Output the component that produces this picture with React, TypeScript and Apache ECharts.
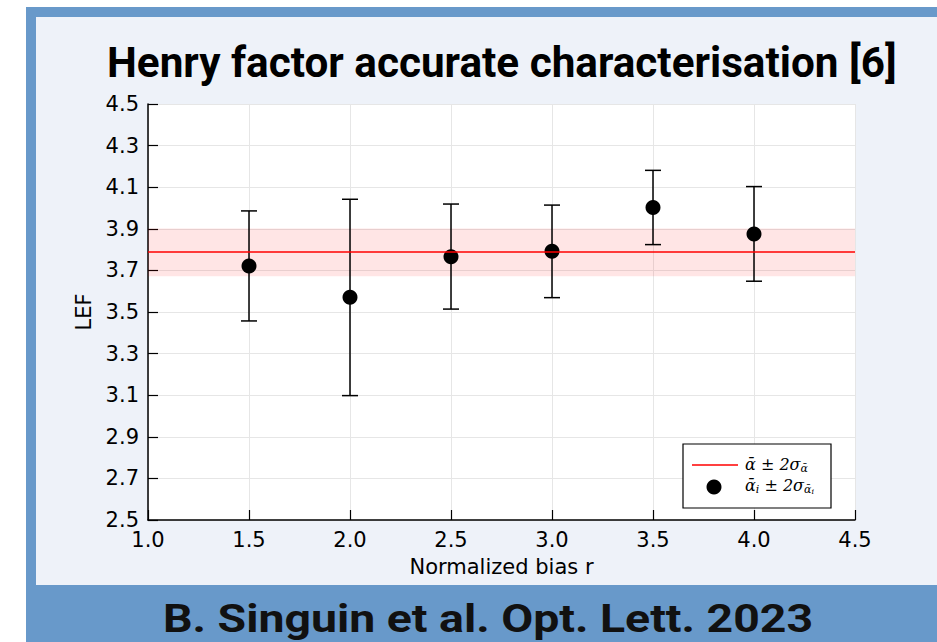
import React, { useEffect, useRef } from "react";
import * as echarts from "echarts";

// ---- data ----
const biasR = [1.5, 2.0, 2.5, 3.0, 3.5, 4.0];
const lefValues = [3.721, 3.571, 3.766, 3.792, 4.002, 3.875];
const errLow = [3.457, 3.098, 3.514, 3.569, 3.824, 3.648];
const errHigh = [3.986, 4.042, 4.019, 4.014, 4.181, 4.103];
const meanLEF = 3.788;
const bandLow = 3.672;
const bandHigh = 3.902;

const xTicks = { min: 1.0, max: 4.5, step: 0.5 };
const yTicks = { min: 2.5, max: 4.5, step: 0.2 };

const titleText = "Henry factor accurate characterisation [6]";
const captionText = "B. Singuin et al. Opt. Lett. 2023";
const xName = "Normalized bias r";
const yName = "LEF";

const W = 937;
const H = 642;

function measure(text: string, font: string): number {
  const c = document.createElement("canvas");
  const ctx = c.getContext("2d");
  if (!ctx) return 0;
  ctx.font = font;
  return ctx.measureText(text).width;
}

export default function App() {
  const ref = useRef<HTMLDivElement | null>(null);

  useEffect(() => {
    if (!ref.current) return;
    const chart = echarts.init(ref.current, undefined, { renderer: "svg" });

    const titleFont = "Roboto";
    const titleSize = 43;
    const tW = measure(titleText, `bold ${titleSize}px ${titleFont}`) || 790;
    const titleScale = 790 / tW;
    const capSize = 39;
    const cW = measure(captionText, `bold ${capSize}px ${titleFont}`) || 650;
    const capScale = 650 / cW;

    const axisFont = "DejaVu Sans";

    const renderErr = (params: any, api: any) => {
      const x = api.value(0);
      const lo = api.value(1);
      const hi = api.value(2);
      const top = api.coord([x, hi]);
      const bot = api.coord([x, lo]);
      const hw = 8;
      const st = { stroke: "#000", lineWidth: 1.5 };
      return {
        type: "group",
        children: [
          { type: "line", shape: { x1: top[0], y1: top[1], x2: bot[0], y2: bot[1] }, style: st },
          { type: "line", shape: { x1: top[0] - hw, y1: top[1], x2: top[0] + hw, y2: top[1] }, style: st },
          { type: "line", shape: { x1: bot[0] - hw, y1: bot[1], x2: bot[0] + hw, y2: bot[1] }, style: st },
        ],
      };
    };

    const axisCommon = {
      type: "value",
      nameLocation: "middle",
      nameTextStyle: { fontFamily: axisFont, fontSize: 21, color: "#000" },
      axisLine: { show: true, onZero: false, lineStyle: { color: "#000", width: 1.5 } },
      axisTick: { show: true, inside: true, length: 10, lineStyle: { color: "#000", width: 1.2 } },
      axisLabel: {
        formatter: (v: number) => v.toFixed(1),
        fontFamily: axisFont,
        fontSize: 21,
        color: "#000",
        margin: 9,
      },
      splitLine: { show: true, lineStyle: { color: "#e6e6e6", width: 1 } },
    };

    const legX = 683, legY = 444, legW = 148, legH = 64;

    chart.setOption({
      animation: false,
      grid: {
        left: 148,
        right: W - 855,
        top: 104,
        bottom: H - 520,
        show: true,
        backgroundColor: "#ffffff",
        borderWidth: 0,
      },
      xAxis: {
        ...axisCommon,
        min: xTicks.min,
        max: xTicks.max,
        interval: xTicks.step,
        name: xName,
        nameGap: 36,
      },
      yAxis: {
        ...axisCommon,
        min: yTicks.min,
        max: yTicks.max,
        interval: yTicks.step,
        name: yName,
        nameGap: 52,
      },
      series: [
        {
          type: "line",
          data: [],
          z: 2,
          silent: true,
          markArea: {
            silent: true,
            itemStyle: { color: "rgba(255,0,0,0.1)" },
            data: [[{ yAxis: bandLow }, { yAxis: bandHigh }]],
          },
          markLine: {
            silent: true,
            symbol: "none",
            label: { show: false },
            lineStyle: { color: "#ff0000", width: 1.5, type: "solid", opacity: 1 },
            data: [{ yAxis: meanLEF }],
          },
        },
        {
          type: "custom",
          renderItem: renderErr,
          data: biasR.map((x, i) => [x, errLow[i], errHigh[i]]),
          encode: { x: 0, y: [1, 2] },
          z: 3,
          silent: true,
        },
        {
          type: "scatter",
          data: biasR.map((x, i) => [x, lefValues[i]]),
          symbol: "circle",
          symbolSize: 15,
          itemStyle: { color: "#000", opacity: 1 },
          z: 4,
          silent: true,
        },
      ],
      graphic: [
        { type: "rect", z: -100, shape: { x: 26, y: 7, width: W - 26, height: H - 7 }, style: { fill: "#6899ca" } },
        { type: "rect", z: -99, shape: { x: 36, y: 17, width: W - 36, height: 585 - 17 }, style: { fill: "#eef2f9" } },
        {
          type: "text",
          z: 50,
          x: 107,
          y: 62,
          scaleX: titleScale,
          style: {
            text: titleText,
            fontFamily: titleFont,
            fontSize: titleSize,
            fontWeight: "bold",
            fill: "#000",
            textAlign: "left",
            textVerticalAlign: "middle",
          },
        },
        {
          type: "text",
          z: 50,
          x: 163,
          y: 618,
          scaleX: capScale,
          style: {
            text: captionText,
            fontFamily: titleFont,
            fontSize: capSize,
            fontWeight: "bold",
            fill: "#111",
            textAlign: "left",
            textVerticalAlign: "middle",
          },
        },
        // legend
        {
          type: "rect",
          z: 100,
          shape: { x: legX, y: legY, width: legW, height: legH },
          style: { fill: "#fff", stroke: "#000", lineWidth: 1.2 },
        },
        {
          type: "line",
          z: 101,
          shape: { x1: 692, y1: 465, x2: 738, y2: 465 },
          style: { stroke: "#ff0000", lineWidth: 1.5 },
        },
        {
          type: "circle",
          z: 101,
          shape: { cx: 714, cy: 487, r: 7.5 },
          style: { fill: "#000" },
        },
        {
          type: "text",
          z: 101,
          x: 745,
          y: 464,
          style: {
            text: "{m|ᾱ ± 2σ}{s|ᾱ}",
            textVerticalAlign: "middle",
            fill: "#000",
            rich: {
              m: { fontFamily: "DejaVu Serif", fontStyle: "italic", fontSize: 16, lineHeight: 20, fill: "#000" },
              s: { fontFamily: "DejaVu Serif", fontStyle: "italic", fontSize: 11, lineHeight: 10, verticalAlign: "bottom", fill: "#000" },
            },
          },
        },
        {
          type: "text",
          z: 101,
          x: 745,
          y: 485,
          style: {
            text: "{m|ᾱ}{s|i}{m| ± 2σ}{s|ᾱ}{t|i}",
            textVerticalAlign: "middle",
            fill: "#000",
            rich: {
              m: { fontFamily: "DejaVu Serif", fontStyle: "italic", fontSize: 16, lineHeight: 20, fill: "#000" },
              s: { fontFamily: "DejaVu Serif", fontStyle: "italic", fontSize: 11, lineHeight: 10, verticalAlign: "bottom", fill: "#000" },
              t: { fontFamily: "DejaVu Serif", fontStyle: "italic", fontSize: 8, lineHeight: 8, verticalAlign: "bottom", fill: "#000" },
            },
          },
        },
      ],
    });

    return () => {
      chart.dispose();
    };
  }, []);

  return (
    <div
      ref={ref}
      style={{ position: "absolute", left: 0, top: 0, width: W, height: H, background: "#ffffff" }}
    />
  );
}
